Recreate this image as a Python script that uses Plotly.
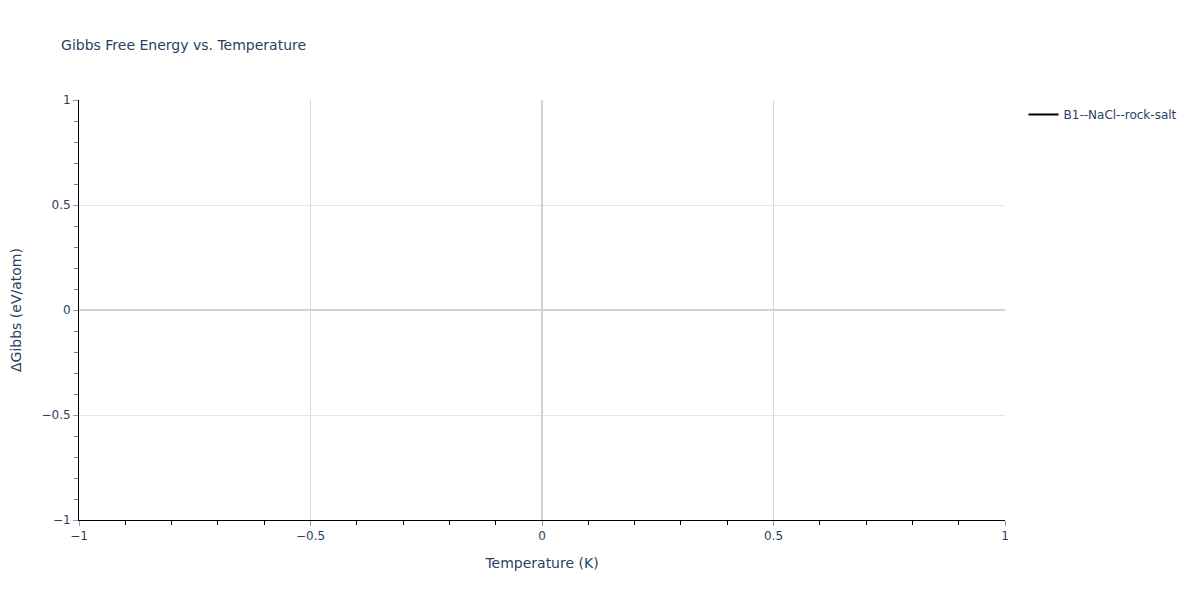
import plotly.graph_objects as go

# no data points were plotted in the reference, only the legend entry
temperature = [None]
delta_gibbs = [None]
phase_names = ["B1--NaCl--rock-salt"]
x_range = [-1, 1]
y_range = [-1, 1]

fig = go.Figure()

fig.add_trace(go.Scatter(
    x=temperature,
    y=delta_gibbs,
    mode='lines',
    line=dict(color='black', width=2),
    name=phase_names[0],
    showlegend=True,
))

fig.update_layout(
    title=dict(text="Gibbs Free Energy vs. Temperature", font=dict(size=14),
               x=0.0442, xanchor='left', y=0.938, yanchor='middle'),
    template='plotly_white',
    width=1200,
    height=600,
    font=dict(family='DejaVu Sans, Verdana, sans-serif', size=12, color='#2a3f5f'),
    margin=dict(l=71, r=203, t=92, b=88),
    legend=dict(font=dict(size=12)),
    xaxis=dict(
        title='Temperature (K)',
        range=x_range,
        showline=True, linecolor='black', linewidth=1,
        ticks='outside', tickcolor='#999', ticklen=5,
        showgrid=True, gridcolor='#d9d9d9',
        zeroline=True, zerolinecolor='#d3d3d3', zerolinewidth=2,
        minor=dict(ticks='outside', ticklen=4, tickcolor='black', nticks=5),
    ),
    yaxis=dict(
        title=dict(text='ΔGibbs (eV/atom)', standoff=22),
        automargin=False,
        range=y_range,
        showline=True, linecolor='black', linewidth=1,
        ticks='outside', tickcolor='#999', ticklen=5,
        showgrid=True, gridcolor='#e5e5e5',
        zeroline=True, zerolinecolor='#d3d3d3', zerolinewidth=2,
        minor=dict(ticks='outside', ticklen=4, tickcolor='#777', nticks=5),
    ),
)

fig.write_html("out.html")
